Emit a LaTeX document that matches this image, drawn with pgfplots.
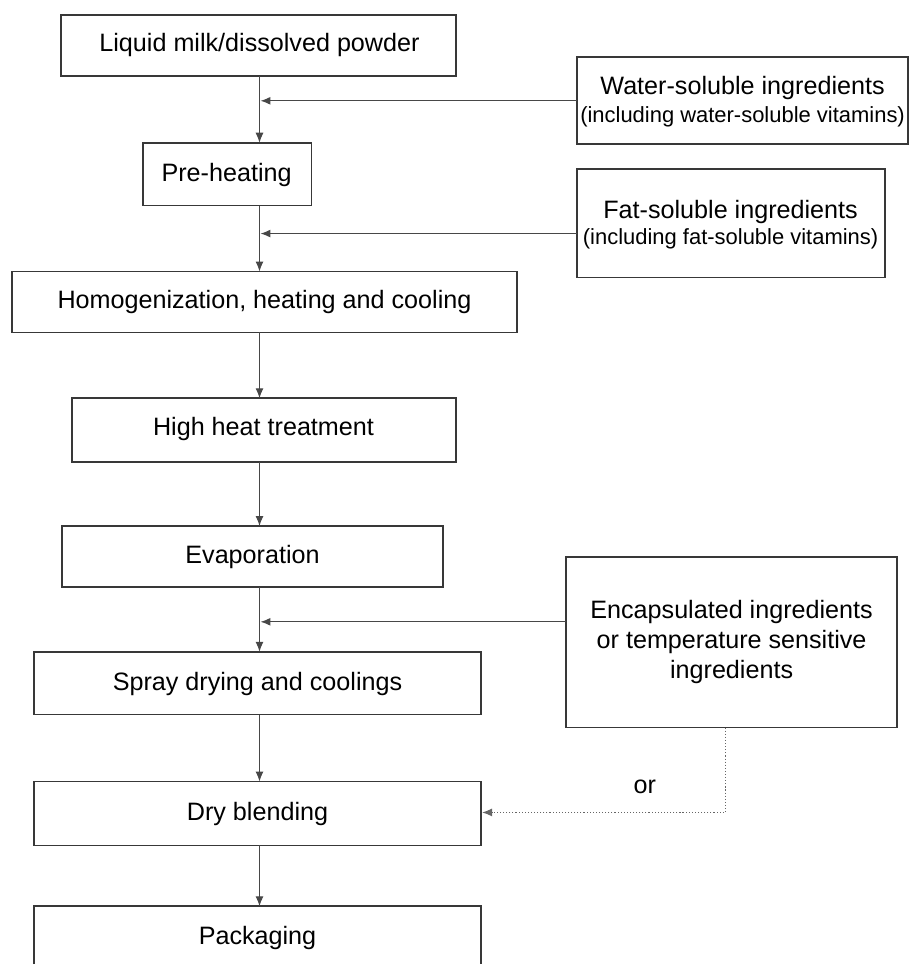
\documentclass[border=0pt]{standalone}
\usepackage{pgfplots}
\pgfplotsset{compat=1.18}
\usepackage{fontspec}
\setmainfont{Liberation Sans}
\usetikzlibrary{arrows.meta}
\tikzset{
  box/.style={draw=black!78, line width=0.85pt, line join=miter},
  arr/.style={draw=black!72, line width=0.55pt, -{Latex[length=5pt,width=4pt]}},
  darr/.style={draw=black!60, line width=0.55pt, densely dotted, -{Latex[length=5pt,width=4pt]}},
}
\newcommand{\mainfs}{\fontsize{12.6}{15}\selectfont}
\newcommand{\smallfs}{\fontsize{11}{14.5}\selectfont}
\begin{document}
\begin{tikzpicture}[font=\mainfs]
\begin{axis}[scale only axis, width=456pt, height=482.5pt,
  xmin=0, xmax=912, ymin=0, ymax=965, y dir=reverse,
  hide axis, clip=false]
% frame for bounding box
\addplot[draw=none] coordinates {(0,0) (912,965)};
% main boxes
\addplot[box] coordinates {(61,15) (457,15) (457,76) (61,76)} -- cycle;
\addplot[box] coordinates {(143,143) (312,143) (312,206) (143,206)} -- cycle;
\addplot[box] coordinates {(12,272) (518,272) (518,333) (12,333)} -- cycle;
\addplot[box] coordinates {(72,399) (457,399) (457,463) (72,463)} -- cycle;
\addplot[box] coordinates {(62,527) (444,527) (444,588) (62,588)} -- cycle;
\addplot[box] coordinates {(34,653) (482,653) (482,716) (34,716)} -- cycle;
\addplot[box] coordinates {(34,783) (482,783) (482,847) (34,847)} -- cycle;
\addplot[box] coordinates {(34,966) (34,908) (482,908) (482,966)};
% side boxes
\addplot[box] coordinates {(578,57) (910,57) (910,144) (578,144)} -- cycle;
\addplot[box] coordinates {(578,169) (887,169) (887,278) (578,278)} -- cycle;
\addplot[box] coordinates {(567,558) (899,558) (899,729) (567,729)} -- cycle;
% vertical arrows
\addplot[arr] coordinates {(260,76) (260,143)};
\addplot[arr] coordinates {(260,206) (260,272)};
\addplot[arr] coordinates {(260,333) (260,399)};
\addplot[arr] coordinates {(260,463) (260,527)};
\addplot[arr] coordinates {(260,588) (260,653)};
\addplot[arr] coordinates {(260,716) (260,783)};
\addplot[arr] coordinates {(260,847) (260,908)};
% horizontal arrows
\addplot[arr] coordinates {(578,101) (261,101)};
\addplot[arr] coordinates {(578,234) (261,234)};
\addplot[arr] coordinates {(567,623) (261,623)};
% dotted
\addplot[darr] coordinates {(727,729) (727,814) (483,814)};
% texts
\node at (axis cs:260,45) {Liquid milk/dissolved powder};
\node[align=center] at (axis cs:744,102) {Water-soluble ingredients\\[-1pt]{\smallfs (including water-soluble vitamins)}};
\node at (axis cs:227,175) {Pre-heating};
\node[align=center] at (axis cs:732,225) {Fat-soluble ingredients\\[-2pt]{\smallfs (including fat-soluble vitamins)}};
\node at (axis cs:265,303) {Homogenization, heating and cooling};
\node at (axis cs:264,430) {High heat treatment};
\node at (axis cs:253,558) {Evaporation};
\node[align=center] at (axis cs:733,643) {Encapsulated ingredients\\or temperature sensitive\\ingredients};
\node at (axis cs:258,685) {Spray drying and coolings};
\node at (axis cs:646,788) {or};
\node at (axis cs:258,816) {Dry blending};
\node at (axis cs:258,940) {Packaging};
\end{axis}
\end{tikzpicture}
\end{document}
